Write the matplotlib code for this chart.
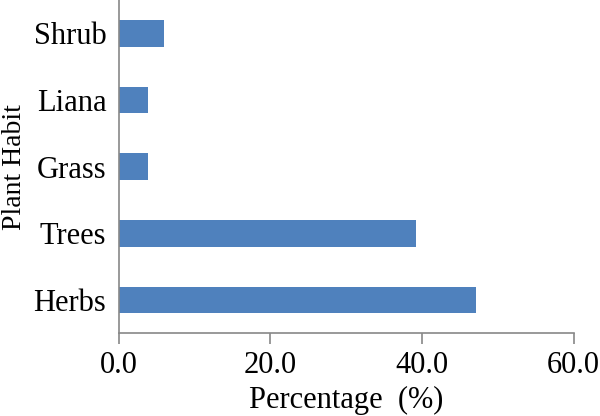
import matplotlib
matplotlib.use("Agg")
import matplotlib.pyplot as plt

categories = ["Herbs", "Trees", "Grass", "Liana", "Shrub"]
values = [47.1, 39.2, 3.9, 3.9, 5.9]
xticks = [0, 20, 40, 60]
xtick_labels = ["0.0", "20.0", "40.0", "60.0"]

plt.rcParams['font.family'] = ['Liberation Serif', 'DejaVu Serif']

fig = plt.figure(figsize=(6.0, 4.16), dpi=100)
ax = fig.add_axes([0.198, 0.1987, 0.758, 0.8013])

ax.barh(range(len(categories)), values, height=0.4, color="#4F81BD")
ax.set_ylim(-0.5, len(categories) - 0.5)
ax.set_xlim(0, 60)
ax.set_xticks(xticks)
ax.set_xticklabels(xtick_labels)
ax.set_yticks(range(len(categories)))
ax.set_yticklabels(categories)

for s in ["top", "right"]:
    ax.spines[s].set_visible(False)
for s in ["left", "bottom"]:
    ax.spines[s].set_color("#888888")
    ax.spines[s].set_linewidth(1.2)

ax.tick_params(axis="x", length=8, width=1.2, color="#888888", pad=5, labelsize=22)
ax.tick_params(axis="y", length=0, pad=9, labelsize=22)

ax.set_xlabel("Percentage  (%)", fontsize=22, labelpad=4)
ax.set_ylabel("Plant Habit", fontsize=20, labelpad=5)

fig.savefig("out.png", dpi=100)
